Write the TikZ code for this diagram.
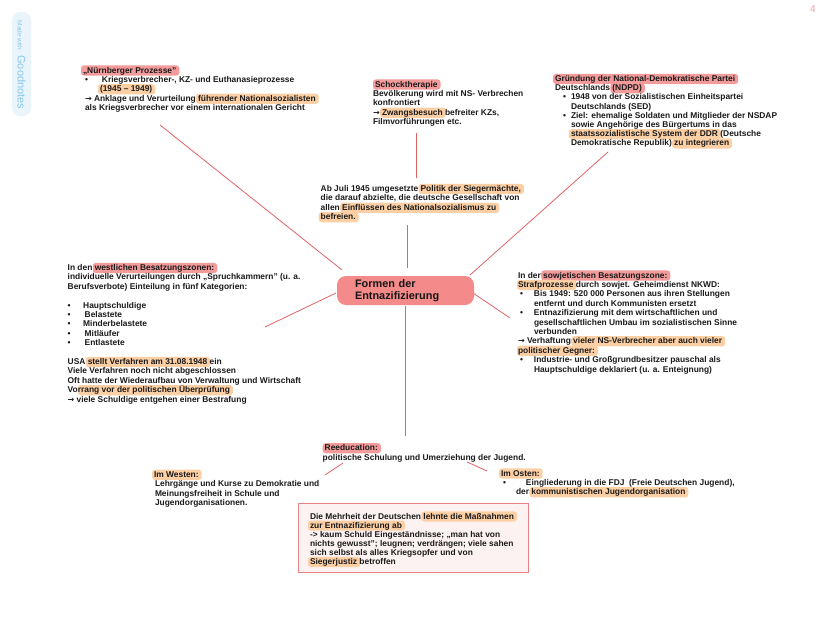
\documentclass[tikz,border=0pt]{standalone}
\usepackage{fontspec}
\setmainfont{Liberation Sans}
\newfontfamily\arrfont{DejaVu Sans}
\definecolor{hlpink}{HTML}{F39B9B}
\definecolor{hlorange}{HTML}{FCCFA5}
\definecolor{centerfill}{HTML}{F48A8A}
\definecolor{connred}{HTML}{E06464}
\definecolor{txtcol}{HTML}{1A1A1A}
\definecolor{boxfill}{HTML}{FDF2F2}
\definecolor{boxline}{HTML}{E98383}
\definecolor{wmbg}{HTML}{EAF5FB}
\definecolor{wmtx}{HTML}{86C8EC}
\definecolor{pagenum}{HTML}{F2A0A8}
\newsavebox\hlbox
\newlength\hlw
\newcommand\hlc[3][2pt]{\sbox\hlbox{#3}\setlength\hlw{\wd\hlbox}\tikz[baseline=0pt]{\fill[#2,overlay,rounded corners=3pt](-#1,-2.6pt) rectangle (\hlw+3pt,7.6pt);\node[inner sep=0pt,outer sep=0pt,anchor=base west] at (0pt,0pt) {\usebox\hlbox};}}
\newcommand\hp[2][2pt]{\hlc[#1]{hlpink}{#2}}
\newcommand\ho[2][2pt]{\hlc[#1]{hlorange}{#2}}
\newcommand\tx{\fontsize{8.4}{9.4}\selectfont\bfseries}
\newcommand\fs{\vrule height 7pt width 0pt\relax}
\newcommand\bul[1]{\makebox[#1][l]{•}}
\newcommand\ar{{\arrfont\fontsize{8}{9}\selectfont →}}
\tikzset{
  blk/.style={anchor=north west, inner sep=0pt, outer sep=0pt, align=left, font=\tx, text=txtcol},
  conn/.style={draw=connred, line width=0.8pt},
  cnode/.style={fill=centerfill, rounded corners=9pt, minimum width=137pt, minimum height=29pt, text width=101pt, inner xsep=18pt, inner ysep=0pt, align=left, font=\fontsize{10.9}{12.5}\selectfont\bfseries, text=txtcol!80!black},
  mbox/.style={draw=boxline, line width=1pt, fill=boxfill, anchor=north west, minimum width=230pt, minimum height=69pt, inner sep=0pt}
}
\begin{document}
\begin{tikzpicture}[x=1pt,y=-1pt]
\useasboundingbox (0,0) rectangle (828,641);
\fill[white] (0,0) rectangle (828,641);

% watermark
\node[fill=wmbg, rounded corners=8pt, minimum width=19pt, minimum height=104pt, inner sep=0pt] (wmbox) at (21.5,64) {};
\node[rotate=-90, text=wmtx, inner sep=0pt] (wmtext) at (21.5,65) {{\fontsize{6.5}{7}\selectfont Made with}\hspace{5pt}{\fontsize{11}{12}\selectfont Goodnotes}};
\node[text=pagenum, inner sep=0pt] (pnum) at (813,9) {\fontsize{10}{10}\selectfont 4};

% connector end points
\coordinate (tlA) at (160,125);
\coordinate (tlC) at (342,270);
\coordinate (tmA) at (416,133);
\coordinate (tmB) at (416,178);
\coordinate (ctA) at (407,225);
\coordinate (ctB) at (407,268);
\coordinate (trA) at (608,152);
\coordinate (trC) at (470,275);
\coordinate (lA) at (265,327);
\coordinate (lC) at (336,293);
\coordinate (rA) at (473,293);
\coordinate (rB) at (510,318);
\coordinate (bA) at (405,306);
\coordinate (bB) at (405,436);
\coordinate (reL1) at (343,463);
\coordinate (reL2) at (325,475);
\coordinate (reR1) at (467,462);
\coordinate (reR2) at (487,471);

\draw[conn] (tlA) -- (tlC);
\draw[conn] (tmA) -- (tmB);
\draw[conn] (ctA) -- (ctB);
\draw[conn] (trA) -- (trC);
\draw[conn] (lA) -- (lC);
\draw[conn] (rA) -- (rB);
\draw[conn] (bA) -- (bB);
\draw[conn] (reL1) -- (reL2);
\draw[conn] (reR1) -- (reR2);

% central node
\node[cnode] (center) at (405.5,290.5) {Formen der\\Entnazifizierung};

% Nuernberger Prozesse
\node[blk] (nbg) at (83,66) {\fs\hp{„Nürnberger Prozesse"}\\
\hspace*{2pt}\bul{17pt}Kriegsverbrecher-, KZ- und Euthanasieprozesse\\
\hspace*{17pt}\ho{(1945 – 1949)}\\
\hspace*{2pt}\ar{} Anklage und Verurteilung \ho{führender Nationalsozialisten}\\
\hspace*{2pt}als Kriegsverbrecher vor einem internationalen Gericht};

% Schocktherapie
\node[blk] (schock) at (373,80) {\fs\hspace*{2pt}\hp{Schocktherapie}\\
Bevölkerung wird mit NS- Verbrechen\\
konfrontiert\\
\ar{} \ho{Zwangsbesuch} befreiter KZs,\\
Filmvorführungen etc.};

% NDPD
\node[blk, font=\fontsize{8.4}{9.2}\selectfont\bfseries] (ndpd) at (555,74.5) {\fs\hp{Gründung der National-Demokratische Partei}\\
Deutschlands \hp{(NDPD)}\\
\hspace*{8pt}\bul{8pt}1948 von der Sozialistischen Einheitspartei\\
\hspace*{16pt}Deutschlands (SED)\\
\hspace*{8pt}\bul{8pt}Ziel: ehemalige Soldaten und Mitglieder der NSDAP\\
\hspace*{16pt}sowie Angehörige des Bürgertums in das\\
\hspace*{16pt}\ho{staatssozialistische System der DDR} (Deutsche\\
\hspace*{16pt}Demokratische Republik) \ho{zu integrieren}};

% centre text
\node[blk] (intro) at (320.7,184.5) {\fs Ab Juli 1945 umgesetzte \ho{Politik der Siegermächte,}\\
die darauf abzielte, die deutsche Gesellschaft von\\
allen \ho{Einflüssen des Nationalsozialismus zu}\\
\ho{befreien.}};

% west zones
\node[blk] (west) at (67.7,263.5) {\fs In den \hp{westlichen Besatzungszonen:}\\
individuelle Verurteilungen durch „Spruchkammern" (u. a.\\
Berufsverbote) Einteilung in fünf Kategorien:\\
\mbox{}\\
\bul{15.5pt}Hauptschuldige\\
\bul{17pt}Belastete\\
\bul{15.5pt}Minderbelastete\\
\bul{17pt}Mitläufer\\
\bul{17pt}Entlastete\\
\mbox{}\\
USA \ho{stellt Verfahren am 31.08.1948} ein\\
Viele Verfahren noch nicht abgeschlossen\\
Oft hatte der Wiederaufbau von Verwaltung und Wirtschaft\\
Vo\ho[0pt]{rrang vor der politischen Überprüfung}\\
\ar{} viele Schuldige entgehen einer Bestrafung};

% soviet zone
\node[blk] (east) at (518,271) {\fs In der \hp{sowjetischen Besatzungszone:}\\
\ho[1pt]{Strafprozesse} durch sowjet. Geheimdienst NKWD:\\
\hspace*{2pt}\bul{14pt}Bis 1949: 520 000 Personen aus ihren Stellungen\\
\hspace*{16pt}entfernt und durch Kommunisten ersetzt\\
\hspace*{2pt}\bul{14pt}Entnazifizierung mit dem wirtschaftlichen und\\
\hspace*{16pt}gesellschaftlichen Umbau im sozialistischen Sinne\\
\hspace*{16pt}verbunden\\
\ar{} Verhaftung \ho{vieler NS-Verbrecher aber auch vieler}\\
\ho[1pt]{politischer Gegner:}\\
\hspace*{2pt}\bul{14pt}Industrie- und Großgrundbesitzer pauschal als\\
\hspace*{16pt}Hauptschuldige deklariert (u. a. Enteignung)};

% Reeducation
\node[blk] (reedu) at (322.7,443.7) {\fs\hspace*{2pt}\hp{Reeducation:}\\
politische Schulung und Umerziehung der Jugend.};

\node[blk] (imwest) at (153,470.3) {\fs\hspace*{1pt}\ho{Im Westen:}\\
\hspace*{2pt}Lehrgänge und Kurse zu Demokratie und\\
\hspace*{2pt}Meinungsfreiheit in Schule und\\
\hspace*{2pt}Jugendorganisationen.};

\node[blk] (imost) at (501,469) {\fs\ho{Im Osten:}\\
\hspace*{2pt}\bul{23pt}Eingliederung in die FDJ\ \ (Freie Deutschen Jugend),\\
\hspace*{15pt}der \ho{kommunistischen Jugendorganisation}};

% bottom box
\node[mbox] (mframe) at (298,503) {};
\node[blk, font=\fontsize{8.4}{9.1}\selectfont\bfseries] (mtext) at (310,512) {\fs Die Mehrheit der Deutschen \ho{lehnte die Maßnahmen}\\
\ho{zur Entnazifizierung ab}\\
-> kaum Schuld Eingeständnisse; „man hat von\\
nichts gewusst"; leugnen; verdrängen; viele sahen\\
sich selbst als alles Kriegsopfer und von\\
\ho{Siegerjustiz} betroffen};
\end{tikzpicture}
\end{document}
